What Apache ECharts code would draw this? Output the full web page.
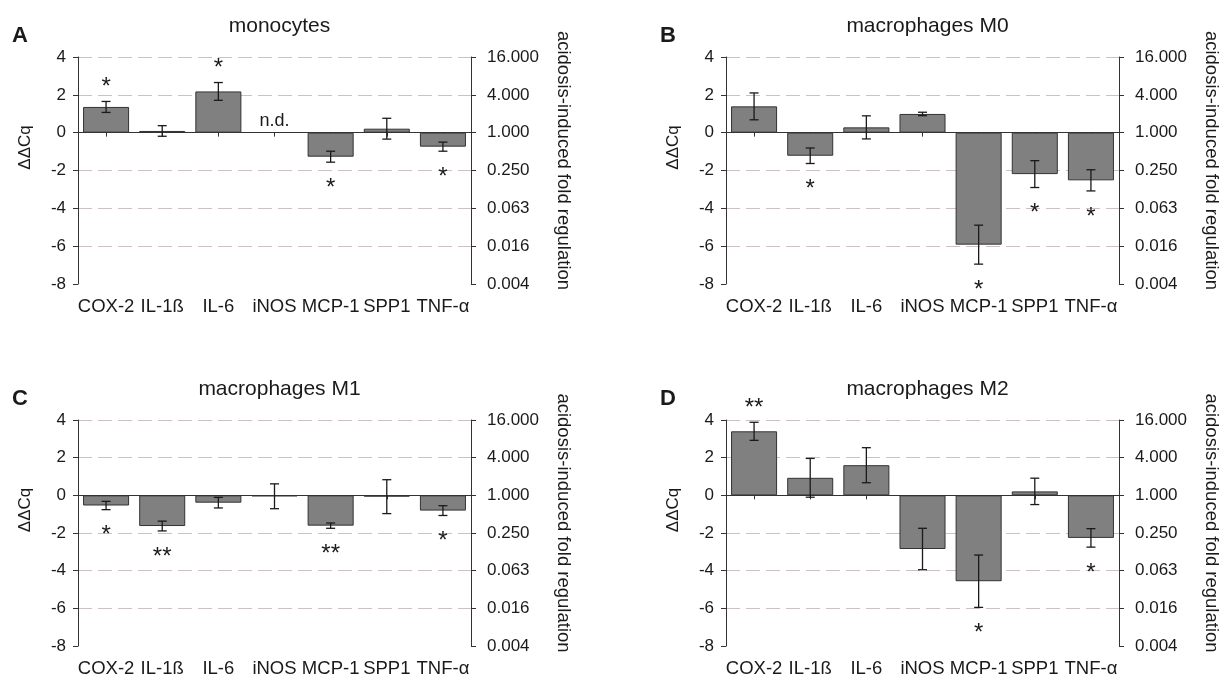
<!DOCTYPE html>
<html>
<head>
<meta charset="utf-8">
<script src="https://cdn.jsdelivr.net/npm/echarts@6/dist/echarts.min.js"></script>
<style>
  html, body { margin: 0; padding: 0; background: #ffffff; }
  #chart { width: 1227px; height: 678px; }
</style>
</head>
<body>
<div id="chart"></div>
<script>
// Genes on the category axis
const categories = ['COX-2', 'IL-1ß', 'IL-6', 'iNOS', 'MCP-1', 'SPP1', 'TNF-α'];

// Panel headings
const panelTitles = ['monocytes', 'macrophages M0', 'macrophages M1', 'macrophages M2'];
const panelLetters = ['A', 'B', 'C', 'D'];

// ΔΔCq means, error half-widths and significance marks per cell type
const monoMean = [1.36, 0.09, 2.18, null, -1.27, 0.21, -0.74];
const monoErr  = [0.29, 0.28, 0.47, null, 0.29, 0.55, 0.24];
const monoSig  = ['*', '', '*', 'n.d.', '*', '', '*'];

const m0Mean = [1.39, -1.22, 0.28, 0.99, -5.92, -2.19, -2.52];
const m0Err  = [0.71, 0.41, 0.61, 0.09, 1.03, 0.71, 0.56];
const m0Sig  = ['', '*', '', '', '*', '*', '*'];

const m1Mean = [-0.54, -1.63, -0.39, -0.05, -1.61, -0.07, -0.81];
const m1Err  = [0.22, 0.26, 0.28, 0.66, 0.14, 0.90, 0.26];
const m1Sig  = ['*', '**', '', '', '**', '', '*'];

const m2Mean = [3.40, 0.93, 1.60, -2.85, -4.56, 0.21, -2.26];
const m2Err  = [0.48, 1.03, 0.93, 1.10, 1.39, 0.70, 0.49];
const m2Sig  = ['**', '', '', '', '*', '', '*'];

// Axis ticks: ΔΔCq on the left, 2^ΔΔCq fold regulation on the right
const ddcqTicks = [-8, -6, -4, -2, 0, 2, 4];
const foldTickLabels = ['0.004', '0.016', '0.063', '0.250', '1.000', '4.000', '16.000'];

const panels = [
  { mean: monoMean, err: monoErr, sig: monoSig },
  { mean: m0Mean, err: m0Err, sig: m0Sig },
  { mean: m1Mean, err: m1Err, sig: m1Sig },
  { mean: m2Mean, err: m2Err, sig: m2Sig }
];

const FONT = "'Liberation Sans', Arial, sans-serif";
const INK = '#1a1a1a';
const PLOT_W = 393, PLOT_H = 227;
const LEFTS = [78, 726];
const TOPS = [57, 420];

const grids = [], xAxes = [], yAxes = [], series = [], titles = [];

panels.forEach((p, k) => {
  const left = LEFTS[k % 2];
  const top = TOPS[Math.floor(k / 2)];
  grids.push({ left: left, top: top, width: PLOT_W, height: PLOT_H, containLabel: false });

  titles.push({
    text: panelTitles[k], left: left + PLOT_W / 2, top: top - 46, textAlign: 'center',
    textStyle: { fontFamily: FONT, fontSize: 21, fontWeight: 'normal', color: INK }
  });
  titles.push({
    text: panelLetters[k], left: left - 71, top: top - 37,
    textStyle: { fontFamily: FONT, fontSize: 22, fontWeight: 'bold', color: INK }
  });

  xAxes.push({
    type: 'category', gridIndex: k, data: categories, boundaryGap: true,
    axisLine: { show: false },
    axisTick: { show: true, alignWithLabel: true, length: 4, lineStyle: { color: '#333' } },
    axisLabel: { interval: 0, margin: 13, fontFamily: FONT, fontSize: 18.5, color: INK },
    splitLine: { show: false }
  });

  const yBase = {
    type: 'value', gridIndex: k, min: -8, max: 4, interval: 2,
    axisLine: { show: true, lineStyle: { color: '#333', width: 1 } },
    axisTick: { show: true, length: 5, lineStyle: { color: '#333' } }
  };
  yAxes.push(Object.assign({}, yBase, {
    position: 'left',
    name: 'ΔΔCq', nameLocation: 'middle', nameRotate: 90, nameGap: 44,
    nameTextStyle: { fontFamily: FONT, fontSize: 17, color: INK, padding: [0, 0, 0, 46] },
    axisLabel: { margin: 12, fontFamily: FONT, fontSize: 17, color: INK },
    splitLine: {
      show: true, showMinLine: false,
      lineStyle: { color: '#cdbfc8', width: 1, type: [14, 6] }
    }
  }));
  yAxes.push(Object.assign({}, yBase, {
    position: 'right',
    name: 'acidosis-induced fold regulation', nameLocation: 'middle', nameRotate: -90, nameGap: 83,
    nameTextStyle: { fontFamily: FONT, fontSize: 18.5, color: INK, padding: [0, 20, 0, 0] },
    axisLabel: {
      margin: 16, fontFamily: FONT, fontSize: 17, color: INK,
      formatter: v => foldTickLabels[ddcqTicks.indexOf(v)]
    },
    splitLine: { show: false }
  }));

  series.push({
    type: 'bar', xAxisIndex: k, yAxisIndex: 2 * k,
    data: p.mean, barCategoryGap: '18%',
    itemStyle: { color: '#808080', borderColor: '#333', borderWidth: 1 },
    silent: true,
    markLine: {
      silent: true, symbol: 'none', label: { show: false },
      lineStyle: { color: '#333', type: 'solid', width: 1 },
      data: [{ yAxis: 0 }]
    },
    z: 2
  });

  series.push({
    type: 'custom', xAxisIndex: k, yAxisIndex: 2 * k,
    data: categories.map((c, i) => [i, 0]),
    encode: { x: 0, y: 1 },
    silent: true, clip: false, z: 5,
    renderItem: (params, api) => {
      const i = params.dataIndex;
      const m = p.mean[i], e = p.err[i], s = p.sig[i];
      const children = [];
      const stroke = { stroke: '#1a1a1a', lineWidth: 1.3 };
      const cap = 4.5;
      let hi = null, lo = null;
      if (m !== null && e !== null) {
        hi = api.coord([i, m + e]);
        lo = api.coord([i, m - e]);
        children.push({ type: 'line', shape: { x1: hi[0], y1: hi[1], x2: lo[0], y2: lo[1] }, style: stroke });
        children.push({ type: 'line', shape: { x1: hi[0] - cap, y1: hi[1], x2: hi[0] + cap, y2: hi[1] }, style: stroke });
        children.push({ type: 'line', shape: { x1: lo[0] - cap, y1: lo[1], x2: lo[0] + cap, y2: lo[1] }, style: stroke });
      }
      if (s === 'n.d.') {
        const z0 = api.coord([i, 0]);
        children.push({
          type: 'text', x: z0[0], y: z0[1] - 3,
          style: { text: s, fontFamily: FONT, fontSize: 18, fill: INK, align: 'center', verticalAlign: 'bottom' }
        });
      } else if (s) {
        // asterisks sit a fixed distance beyond the end of the error bar
        const up = m >= 0;
        const anchor = up ? hi : lo;
        const yc = anchor[1] + (up ? -20 : 20);
        children.push({
          type: 'text', x: anchor[0], y: yc + 6,
          style: { text: s, fontFamily: FONT, fontSize: 24, fill: INK, align: 'center', verticalAlign: 'middle' }
        });
      }
      return { type: 'group', children: children };
    }
  });
});

const chart = echarts.init(document.getElementById('chart'), null, { renderer: 'canvas' });
chart.setOption({
  backgroundColor: '#ffffff',
  animation: false,
  title: titles,
  grid: grids,
  xAxis: xAxes,
  yAxis: yAxes,
  series: series
});
</script>
</body>
</html>
